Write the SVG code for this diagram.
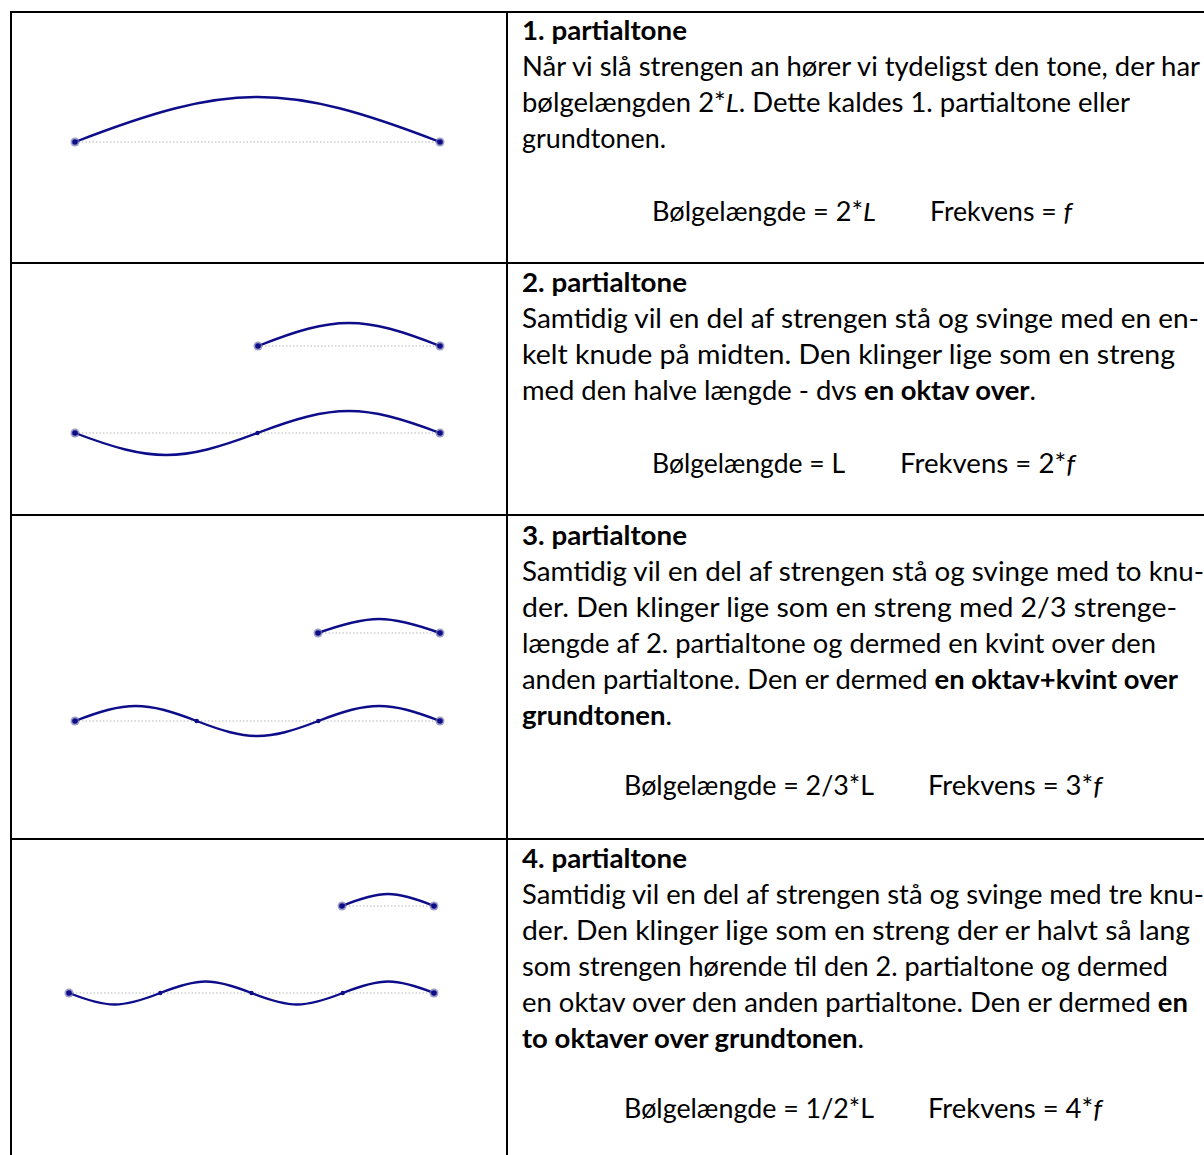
<svg xmlns="http://www.w3.org/2000/svg" width="1204" height="1155" viewBox="0 0 1204 1155">
<style>
.grid{stroke:#000;stroke-width:2;fill:none}
.wave{stroke:#0d0d8a;stroke-width:2.4;fill:none;stroke-linecap:round}
.base{stroke:#b4b4b4;stroke-width:1;stroke-dasharray:1.5 2;fill:none}
.halo{fill:#6a6aa8;fill-opacity:0.65}
.dot{fill:#0d0d8a}
text{font-family:Lato,"Liberation Sans",sans-serif;font-size:26px;fill:#000}
.b{font-weight:bold}
.i{font-style:italic}
</style>
<rect x="0" y="0" width="1204" height="1155" fill="#fff"/>
<g id="table">
<line class="grid" x1="10" y1="12" x2="1204" y2="12"/>
<line class="grid" x1="10" y1="263" x2="1204" y2="263"/>
<line class="grid" x1="10" y1="515" x2="1204" y2="515"/>
<line class="grid" x1="10" y1="839" x2="1204" y2="839"/>
<line class="grid" x1="11" y1="11" x2="11" y2="1155"/>
<line class="grid" x1="507" y1="11" x2="507" y2="1155"/>
</g>
<g id="connectors">
<line class="base" x1="75" y1="142" x2="440" y2="142"/>
<path class="wave" d="M75,142 C229.9,82 285.1,82 440,142"/>
<line class="base" x1="258" y1="346" x2="440" y2="346"/>
<path class="wave" d="M258,346 C335.2,315.3 362.8,315.3 440,346"/>
<line class="base" x1="75" y1="433" x2="440" y2="433"/>
<path class="wave" d="M75,433 C152.5,462.3 180,462.3 257.5,433 C335,403.7 362.5,403.7 440,433"/>
<line class="base" x1="318" y1="633" x2="440" y2="633"/>
<path class="wave" d="M318,633 C369.8,614.3 388.2,614.3 440,633"/>
<line class="base" x1="75" y1="721" x2="440" y2="721"/>
<path class="wave" d="M75,721 C126.6,701 145,701 196.7,721 C248.3,741 266.7,741 318.3,721 C369.9,701 388.3,701 440,721"/>
<line class="base" x1="342" y1="906" x2="434" y2="906"/>
<path class="wave" d="M342,906 C381,890 395,890 434,906"/>
<line class="base" x1="69" y1="993" x2="434" y2="993"/>
<path class="wave" d="M69,993 C107.7,1008.3 121.5,1008.3 160.25,993 C198.95,977.7 212.75,977.7 251.5,993 C290.2,1008.3 304,1008.3 342.75,993 C381.45,977.7 395.25,977.7 434,993"/>
</g>
<g id="nodes">
<g id="n1"><circle class="halo" cx="75" cy="142" r="4.5"/><circle class="dot" cx="75" cy="142" r="2.8"/><circle class="halo" cx="440" cy="142" r="4.5"/><circle class="dot" cx="440" cy="142" r="2.8"/></g>
<g id="n2a"><circle class="halo" cx="258" cy="346" r="4.5"/><circle class="dot" cx="258" cy="346" r="2.8"/><circle class="halo" cx="440" cy="346" r="4.5"/><circle class="dot" cx="440" cy="346" r="2.8"/></g>
<g id="n2b"><circle class="halo" cx="75" cy="433" r="4.5"/><circle class="dot" cx="75" cy="433" r="2.8"/><circle class="dot" cx="257.5" cy="433" r="2.2"/><circle class="halo" cx="440" cy="433" r="4.5"/><circle class="dot" cx="440" cy="433" r="2.8"/></g>
<g id="n3a"><circle class="halo" cx="318" cy="633" r="4.5"/><circle class="dot" cx="318" cy="633" r="2.8"/><circle class="halo" cx="440" cy="633" r="4.5"/><circle class="dot" cx="440" cy="633" r="2.8"/></g>
<g id="n3b"><circle class="halo" cx="75" cy="721" r="4.5"/><circle class="dot" cx="75" cy="721" r="2.8"/><circle class="dot" cx="196.7" cy="721" r="2.2"/><circle class="dot" cx="318.3" cy="721" r="2.2"/><circle class="halo" cx="440" cy="721" r="4.5"/><circle class="dot" cx="440" cy="721" r="2.8"/></g>
<g id="n4a"><circle class="halo" cx="342" cy="906" r="4.5"/><circle class="dot" cx="342" cy="906" r="2.8"/><circle class="halo" cx="434" cy="906" r="4.5"/><circle class="dot" cx="434" cy="906" r="2.8"/></g>
<g id="n4b"><circle class="halo" cx="69" cy="993" r="4.5"/><circle class="dot" cx="69" cy="993" r="2.8"/><circle class="dot" cx="160.25" cy="993" r="2.2"/><circle class="dot" cx="251.5" cy="993" r="2.2"/><circle class="dot" cx="342.75" cy="993" r="2.2"/><circle class="halo" cx="434" cy="993" r="4.5"/><circle class="dot" cx="434" cy="993" r="2.8"/></g>
</g>
<g id="text1">
<text x="522" y="40" class="b" textLength="165" lengthAdjust="spacingAndGlyphs">1. partialtone</text>
<text x="522" y="76" textLength="678" lengthAdjust="spacingAndGlyphs">Når vi slå strengen an hører vi tydeligst den tone, der har</text>
<text x="522" y="112" textLength="608" lengthAdjust="spacingAndGlyphs">bølgelængden 2*<tspan class="i">L</tspan>. Dette kaldes 1. partialtone eller</text>
<text x="522" y="148" textLength="144" lengthAdjust="spacingAndGlyphs">grundtonen.</text>
<text x="652" y="221" textLength="224" lengthAdjust="spacingAndGlyphs">Bølgelængde = 2*<tspan class="i">L</tspan></text>
<text x="930" y="221" textLength="142" lengthAdjust="spacingAndGlyphs">Frekvens = <tspan class="i">f</tspan></text>
</g>
<g id="text2">
<text x="522" y="292" class="b" textLength="165" lengthAdjust="spacingAndGlyphs">2. partialtone</text>
<text x="522" y="328" textLength="677" lengthAdjust="spacingAndGlyphs">Samtidig vil en del af strengen stå og svinge med en en-</text>
<text x="522" y="364" textLength="653" lengthAdjust="spacingAndGlyphs">kelt knude på midten. Den klinger lige som en streng</text>
<text x="522" y="400" textLength="514" lengthAdjust="spacingAndGlyphs">med den halve længde - dvs <tspan class="b">en oktav over</tspan>.</text>
<text x="652" y="473" textLength="193" lengthAdjust="spacingAndGlyphs">Bølgelængde = L</text>
<text x="900" y="473" textLength="175" lengthAdjust="spacingAndGlyphs">Frekvens = 2*<tspan class="i">f</tspan></text>
</g>
<g id="text3">
<text x="522" y="545" class="b" textLength="165" lengthAdjust="spacingAndGlyphs">3. partialtone</text>
<text x="522" y="581" textLength="682" lengthAdjust="spacingAndGlyphs">Samtidig vil en del af strengen stå og svinge med to knu-</text>
<text x="522" y="617" textLength="655" lengthAdjust="spacingAndGlyphs">der.  Den klinger lige som en streng med 2/3 strenge-</text>
<text x="522" y="653" textLength="634" lengthAdjust="spacingAndGlyphs">længde af 2. partialtone og dermed en kvint over den</text>
<text x="522" y="689" textLength="656" lengthAdjust="spacingAndGlyphs">anden partialtone. Den er dermed <tspan class="b">en oktav+kvint over</tspan></text>
<text x="522" y="725" textLength="150" lengthAdjust="spacingAndGlyphs"><tspan class="b">grundtonen</tspan>.</text>
<text x="624" y="795" textLength="250" lengthAdjust="spacingAndGlyphs">Bølgelængde = 2/3*L</text>
<text x="928" y="795" textLength="174" lengthAdjust="spacingAndGlyphs">Frekvens = 3*<tspan class="i">f</tspan></text>
</g>
<g id="text4">
<text x="522" y="868" class="b" textLength="165" lengthAdjust="spacingAndGlyphs">4. partialtone</text>
<text x="522" y="904" textLength="682" lengthAdjust="spacingAndGlyphs">Samtidig vil en del af strengen stå og svinge med tre knu-</text>
<text x="522" y="940" textLength="668" lengthAdjust="spacingAndGlyphs">der.  Den klinger lige som en streng der er halvt så lang</text>
<text x="522" y="976" textLength="646" lengthAdjust="spacingAndGlyphs">som strengen hørende til den 2. partialtone og dermed</text>
<text x="522" y="1012" textLength="666" lengthAdjust="spacingAndGlyphs">en oktav over den anden partialtone. Den er dermed <tspan class="b">en</tspan></text>
<text x="522" y="1048" textLength="342" lengthAdjust="spacingAndGlyphs"><tspan class="b">to oktaver over grundtonen</tspan>.</text>
<text x="624" y="1118" textLength="250" lengthAdjust="spacingAndGlyphs">Bølgelængde = 1/2*L</text>
<text x="928" y="1118" textLength="174" lengthAdjust="spacingAndGlyphs">Frekvens = 4*<tspan class="i">f</tspan></text>
</g>
</svg>
